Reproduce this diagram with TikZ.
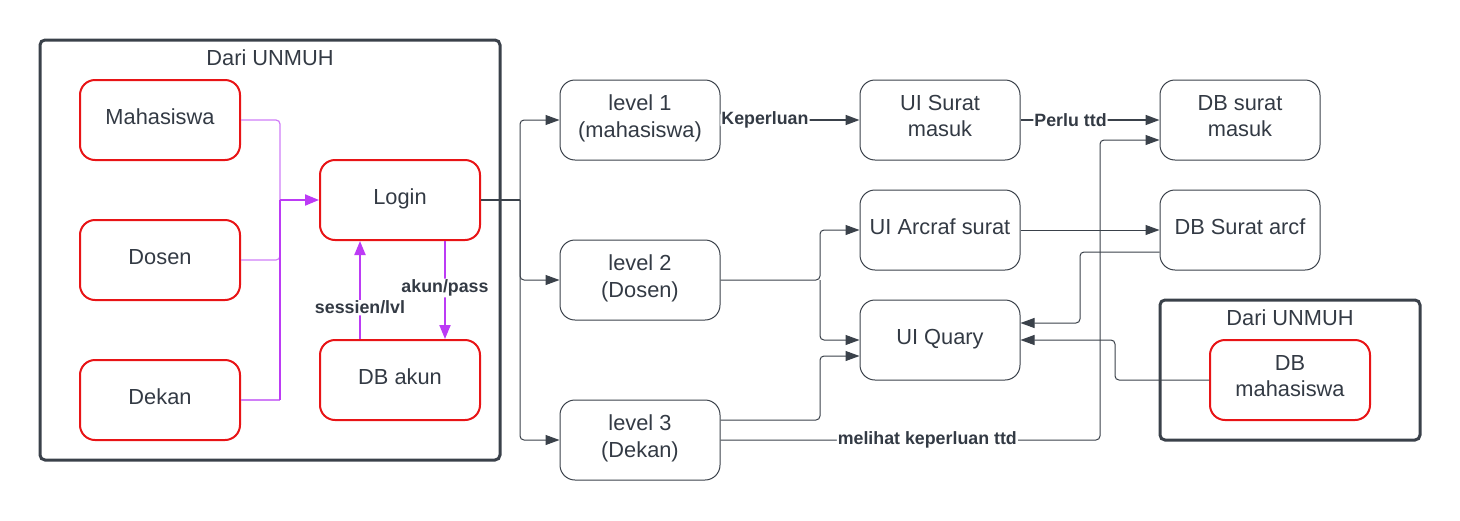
\documentclass[tikz,border=0pt]{standalone}
\usepackage{fontspec}
\setmainfont{Liberation Sans}
\usetikzlibrary{arrows.meta,calc}
\definecolor{ink}{HTML}{3A414A}
\definecolor{txt}{HTML}{333A44}
\definecolor{redb}{HTML}{E81416}
\definecolor{purp}{HTML}{BC3BF5}
\definecolor{lpurp}{HTML}{D07EF7}
\begin{document}
\begin{tikzpicture}[x=1pt,y=-1pt,
  box/.style={draw=ink,line width=1pt,rounded corners=15pt,minimum width=160pt,minimum height=80pt,align=center,font=\fontsize{21.8}{26.2}\selectfont,text=txt,inner sep=0pt,text depth=6.5pt},
  two/.style={text depth=8pt},
  rbox/.style={box,draw=redb,line width=2pt},
  frame/.style={draw=ink,line width=3pt,rounded corners=5pt,inner sep=0pt},
  ttl/.style={font=\fontsize{21.8}{26}\selectfont,text=txt,inner sep=0pt},
  conn/.style={draw=ink,line width=1pt,rounded corners=4pt,-{Triangle[length=14pt,width=10pt]}},
  bconn/.style={conn,line width=1.6pt},
  bline/.style={draw=ink,line width=1.6pt},
  pline/.style={draw=lpurp,line width=1.2pt,rounded corners=4pt},
  pconn/.style={draw=purp,line width=2pt,rounded corners=4pt,-{Triangle[length=14pt,width=11pt]}},
  lbl/.style={fill=white,font=\bfseries\fontsize{17.8}{21}\selectfont,text=txt,inner sep=1pt}]
\useasboundingbox (0,0) rectangle (1460,520);
% frames
\node[frame,minimum width=460pt,minimum height=420pt] (frameA) at (270,250) {};
\node[ttl] (titleA) at (270,58) {Dari UNMUH};
\node[frame,minimum width=260pt,minimum height=140pt] (frameB) at (1290,370) {};
\node[ttl] (titleB) at (1290,318) {Dari UNMUH};
% left nodes
\node[rbox] (mah) at (160,120) {Mahasiswa};
\node[rbox] (dos) at (160,260) {Dosen};
\node[rbox] (dek) at (160,400) {Dekan};
\node[rbox] (login) at (400,200) {Login};
\node[rbox] (dbak) at (400,380) {DB akun};
% middle
\node[box,two] (lv1) at (640,120) {level 1\\(mahasiswa)};
\node[box,two] (lv2) at (640,280) {level 2\\(Dosen)};
\node[box,two] (lv3) at (640,440) {level 3\\(Dekan)};
\node[box,two] (uis) at (940,120) {UI Surat\\masuk};
\node[box] (uia) at (940,230) {UI Arcraf surat};
\node[box] (uiq) at (940,340) {UI Quary};
\node[box,two] (dbs) at (1240,120) {DB surat\\masuk};
\node[box] (dba) at (1240,230) {DB Surat arcf};
\node[rbox,two] (dbm) at (1290,380) {DB\\mahasiswa};
% junction coordinates
\coordinate (jP) at (280,200);
\coordinate (jL) at (520,200);
\coordinate (j2) at (820,280);
% purple
\draw[pline] (mah.east) -| (jP);
\draw[pline] (dos.east) -| (jP);
\draw[pline] (dek.east) -- (280,400);
\draw[draw=purp,line width=1.6pt,rounded corners=4pt] (280,400) -- (jP);
\draw[pconn] (jP) -- (login.west);
\draw[pconn] ($(dbak.north)+(-40,0)$) -- node[lbl,pos=0.32]{sessien/lvl} ($(login.south)+(-40,0)$);
\draw[pconn] ($(login.south)+(45,0)$) -- node[lbl,pos=0.48]{akun/pass} ($(dbak.north)+(45,0)$);
% login branches
\draw[bline] (login.east) -- (jL);
\draw[conn] (jL) |- (lv1.west);
\draw[conn] (jL) |- (lv2.west);
\draw[conn] (jL) |- (lv3.west);
% level connectors
\draw[bconn] (lv1.east) -- node[lbl,pos=0.32]{Keperluan} (uis.west);
\draw[bconn] (uis.east) -- node[lbl,pos=0.36]{Perlu ttd} (dbs.west);
\draw[conn] (lv2.east) -- (j2) |- (uia.west);
\draw[conn] (j2) |- (uiq.west);
\draw[conn] ($(lv3.east)+(0,-20)$) -- (820,420) |- ($(uiq.west)+(0,16)$);
\draw[conn] (lv3.east) -- node[lbl,pos=0.545]{melihat keperluan ttd} (1100,440) |- ($(dbs.west)+(0,20)$);
\draw[conn] (uia.east) -- (dba.west);
\draw[conn] ($(dba.west)+(0,22)$) -- (1080,252) |- ($(uiq.east)+(0,-17)$);
\draw[conn] (dbm.west) -- (1115,380) |- (uiq.east);
\end{tikzpicture}
\end{document}
